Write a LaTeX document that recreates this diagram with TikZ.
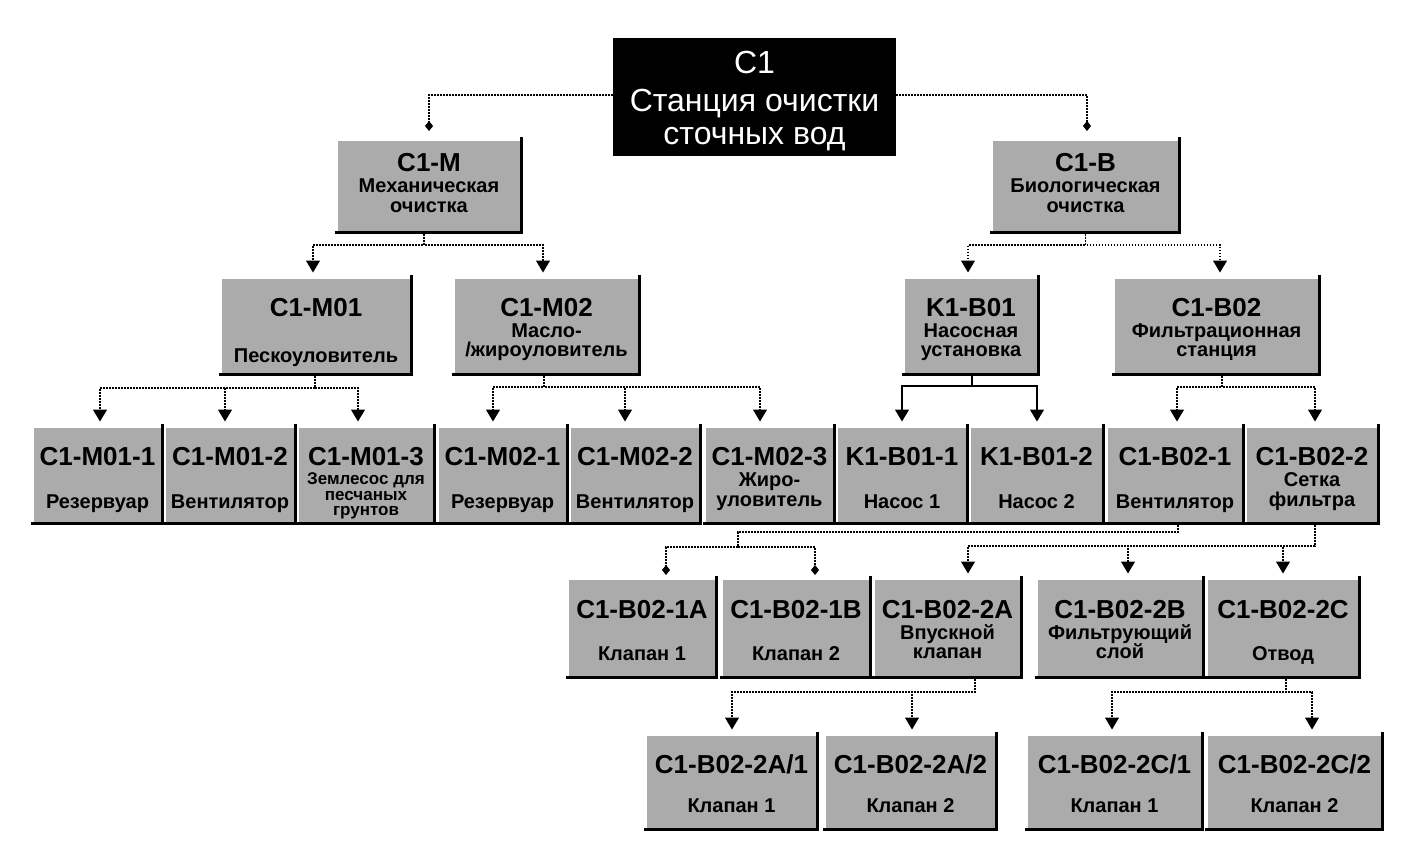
\documentclass[tikz,border=0pt]{standalone}
\usepackage{fontspec}
\setmainfont{Liberation Sans}
\usetikzlibrary{arrows.meta,calc}
\newcommand\bx[5]{\node[box, minimum width={#3-#2}, minimum height={#5-#4}] (#1) at ({(#2+#3)/2},{(#4+#5)/2}) {};}
\newcommand\bt[5]{\path (#3.north) ++(0,#4) node[#2] (#1) {#5};}
\begin{document}
\begin{tikzpicture}[x=1pt,y=-1pt,
  box/.style={fill=black!33, inner sep=0pt, outer sep=0pt},
  rootbox/.style={fill=black, inner sep=0pt, outer sep=0pt},
  code/.style={anchor=base, inner sep=0pt, font=\fontsize{26}{26}\selectfont\bfseries},
  desc/.style={anchor=base, inner sep=0pt, font=\fontsize{20}{20}\selectfont\bfseries},
  descs/.style={anchor=base, inner sep=0pt, font=\fontsize{17}{17}\selectfont\bfseries},
  roottxt/.style={anchor=base, inner sep=0pt, text=white, font=\fontsize{32}{32}\selectfont},
  shadeline/.style={line width=3pt, black},
  lnk/.style={line width=1.1pt, dash pattern=on 1.6pt off 1.4pt},
  sol/.style={line width=1.3pt},
  tarr/.style={-{Triangle[length=12pt,width=14pt]}, shorten >=6.5pt},
  darr/.style={-{Diamond[length=10pt,width=8pt]}}]
\useasboundingbox[fill=white] (0,0) rectangle (1423,863);

% root
\node[rootbox, minimum width=283, minimum height=118] (root) at (754.5,97) {};
\bt{rootA}{roottxt}{root}{35}{C1}
\bt{rootB}{roottxt}{root}{73}{Станция очистки}
\bt{rootC}{roottxt}{root}{106}{сточных вод}

% level 2
\bx{M}{338}{520}{141}{231}
\bx{B}{993}{1178}{141}{231}
% level 3
\bx{M01}{222}{410}{279}{373}
\bx{M02}{455}{638}{279}{373}
\bx{K01}{905}{1037}{279}{373}
\bx{B02}{1115}{1318}{279}{373}
% level 4
\bx{M011}{34}{161}{428}{522}
\bx{M012}{166}{294}{428}{522}
\bx{M013}{299}{433}{428}{522}
\bx{M021}{439}{566}{428}{522}
\bx{M022}{571}{699}{428}{522}
\bx{M023}{706}{833}{428}{522}
\bx{K011}{838}{966}{428}{522}
\bx{K012}{971}{1102}{428}{522}
\bx{B021}{1108}{1242}{428}{522}
\bx{B022}{1247}{1377}{428}{522}
% level 5
\bx{B1A}{569}{715}{580}{676}
\bx{B1B}{723}{869}{580}{676}
\bx{B2A}{875}{1020}{580}{676}
\bx{B2B}{1038}{1202}{580}{676}
\bx{B2C}{1208}{1358}{580}{676}
% level 6
\bx{A1}{647}{816}{736}{828}
\bx{A2}{826}{995}{736}{828}
\bx{C1}{1028}{1201}{736}{828}
\bx{C2}{1208}{1381}{736}{828}

\foreach \n in {M,B,M01,M02,K01,B02,M011,M012,M013,M021,M022,M023,K011,K012,B021,B022,B1A,B1B,B2A,B2B,B2C,A1,A2,C1,C2}
  \draw[shadeline] ([xshift=-3pt,yshift=-1pt]\n.south west) -- ([xshift=1pt,yshift=-1pt]\n.south east) -- ([xshift=1pt,yshift=4pt]\n.north east);

% texts level 2
\bt{Mc}{code}{M}{30}{C1-M}
\bt{Md1}{desc}{M}{51}{Механическая}
\bt{Md2}{desc}{M}{71}{очистка}
\bt{Bc}{code}{B}{30}{C1-B}
\bt{Bd1}{desc}{B}{51}{Биологическая}
\bt{Bd2}{desc}{B}{71}{очистка}
% level 3
\bt{M01c}{code}{M01}{37}{C1-M01}
\bt{M01d}{desc}{M01}{83}{Пескоуловитель}
\bt{M02c}{code}{M02}{37}{C1-M02}
\bt{M02d1}{desc}{M02}{58}{Масло-}
\bt{M02d2}{desc}{M02}{77}{/жироуловитель}
\bt{K01c}{code}{K01}{37}{K1-B01}
\bt{K01d1}{desc}{K01}{58}{Насосная}
\bt{K01d2}{desc}{K01}{77}{установка}
\bt{B02c}{code}{B02}{37}{C1-B02}
\bt{B02d1}{desc}{B02}{58}{Фильтрационная}
\bt{B02d2}{desc}{B02}{77}{станция}
% level 4
\bt{M011c}{code}{M011}{37}{C1-M01-1}
\bt{M011d}{desc}{M011}{80}{Резервуар}
\bt{M012c}{code}{M012}{37}{C1-M01-2}
\bt{M012d}{desc}{M012}{80}{Вентилятор}
\bt{M013c}{code}{M013}{37}{C1-M01-3}
\bt{M013d1}{descs}{M013}{56}{Землесос для}
\bt{M013d2}{descs}{M013}{72}{песчаных}
\bt{M013d3}{descs}{M013}{87}{грунтов}
\bt{M021c}{code}{M021}{37}{C1-M02-1}
\bt{M021d}{desc}{M021}{80}{Резервуар}
\bt{M022c}{code}{M022}{37}{C1-M02-2}
\bt{M022d}{desc}{M022}{80}{Вентилятор}
\bt{M023c}{code}{M023}{37}{C1-M02-3}
\bt{M023d1}{desc}{M023}{58}{Жиро-}
\bt{M023d2}{desc}{M023}{78}{уловитель}
\bt{K011c}{code}{K011}{37}{K1-B01-1}
\bt{K011d}{desc}{K011}{80}{Насос 1}
\bt{K012c}{code}{K012}{37}{K1-B01-2}
\bt{K012d}{desc}{K012}{80}{Насос 2}
\bt{B021c}{code}{B021}{37}{C1-B02-1}
\bt{B021d}{desc}{B021}{80}{Вентилятор}
\bt{B022c}{code}{B022}{37}{C1-B02-2}
\bt{B022d1}{desc}{B022}{58}{Сетка}
\bt{B022d2}{desc}{B022}{78}{фильтра}
% level 5
\bt{B1Ac}{code}{B1A}{38}{C1-B02-1A}
\bt{B1Ad}{desc}{B1A}{80}{Клапан 1}
\bt{B1Bc}{code}{B1B}{38}{C1-B02-1B}
\bt{B1Bd}{desc}{B1B}{80}{Клапан 2}
\bt{B2Ac}{code}{B2A}{38}{C1-B02-2A}
\bt{B2Ad1}{desc}{B2A}{59}{Впускной}
\bt{B2Ad2}{desc}{B2A}{78}{клапан}
\bt{B2Bc}{code}{B2B}{38}{C1-B02-2B}
\bt{B2Bd1}{desc}{B2B}{59}{Фильтрующий}
\bt{B2Bd2}{desc}{B2B}{78}{слой}
\bt{B2Cc}{code}{B2C}{38}{C1-B02-2C}
\bt{B2Cd}{desc}{B2C}{80}{Отвод}
% level 6
\bt{A1c}{code}{A1}{37}{C1-B02-2A/1}
\bt{A1d}{desc}{A1}{76}{Клапан 1}
\bt{A2c}{code}{A2}{37}{C1-B02-2A/2}
\bt{A2d}{desc}{A2}{76}{Клапан 2}
\bt{C1c}{code}{C1}{37}{C1-B02-2C/1}
\bt{C1d}{desc}{C1}{76}{Клапан 1}
\bt{C2c}{code}{C2}{37}{C1-B02-2C/2}
\bt{C2d}{desc}{C2}{76}{Клапан 2}

% connectors
\draw[lnk,darr,shorten >=10pt] ([yshift=2pt]root.west) -| (M.north);
\draw[lnk,darr,shorten >=10pt] ([yshift=2pt]root.east) -| ([xshift=1.5pt]B.north);

\draw[lnk,tarr] ([xshift=-5pt]M.south) -- ++(0,14) -| ([xshift=-3pt]M01.north);
\draw[lnk,tarr] ([xshift=-5pt]M.south) -- ++(0,14) -| ([xshift=-3.5pt]M02.north);

\draw[lnk,tarr] (B.south) -- ++(0,14) -| ([xshift=-3pt]K01.north);
\draw[lnk,tarr] (B.south) -- ++(0,14) -| ([xshift=3.5pt]B02.north);

\draw[lnk,tarr] ([xshift=-1pt]M01.south) -- ++(0,15) -| ([xshift=2.5pt]M011.north);
\draw[lnk,tarr] ([xshift=-1pt]M01.south) -- ++(0,15) -| ([xshift=-5pt]M012.north);
\draw[lnk,tarr] ([xshift=-1pt]M01.south) -- ++(0,15) -| ([xshift=-8pt]M013.north);

\draw[lnk,tarr] ([xshift=-2.5pt]M02.south) -- ++(0,14) -| ([xshift=-9.5pt]M021.north);
\draw[lnk,tarr] ([xshift=-2.5pt]M02.south) -- ++(0,14) -| ([xshift=-10pt]M022.north);
\draw[lnk,tarr] ([xshift=-2.5pt]M02.south) -- ++(0,14) -| ([xshift=-9.5pt]M023.north);

\draw[sol,tarr] ([xshift=1pt]K01.south) -- ++(0,13) -| (K011.north);
\draw[sol,tarr] ([xshift=1pt]K01.south) -- ++(0,13) -| ([xshift=0.5pt]K012.north);

\draw[lnk,tarr] ([xshift=5.5pt]B02.south) -- ++(0,14) -| ([xshift=2pt]B021.north);
\draw[lnk,tarr] ([xshift=5.5pt]B02.south) -- ++(0,14) -| ([xshift=3pt]B022.north);

\draw[lnk,darr,shorten >=5pt] ([xshift=3pt]B021.south) -- ++(0,10) -| ++(-440,15) -| ([xshift=24pt]B1A.north);
\draw[lnk,darr,shorten >=5pt] ([xshift=3pt]B021.south) -- ++(0,10) -| ++(-440,15) -| ([xshift=19pt]B1B.north);

\draw[lnk,tarr] ([xshift=3pt]B022.south) -- ++(0,24) -| ([xshift=20.5pt]B2A.north);
\draw[lnk,tarr] ([xshift=3pt]B022.south) -- ++(0,24) -| ([xshift=8pt]B2B.north);
\draw[lnk,tarr] ([xshift=3pt]B022.south) -- ++(0,24) -| (B2C.north);

\draw[lnk,tarr] ([xshift=27.5pt]B2A.south) -- ++(0,16) -| ([xshift=0.5pt]A1.north);
\draw[lnk,tarr] ([xshift=27.5pt]B2A.south) -- ++(0,16) -| ([xshift=1.5pt]A2.north);

\draw[lnk,tarr] ([xshift=3pt]B2C.south) -- ++(0,16) -| ([xshift=-2.5pt]C1.north);
\draw[lnk,tarr] ([xshift=3pt]B2C.south) -- ++(0,16) -| ([xshift=17.5pt]C2.north);
\end{tikzpicture}
\end{document}
